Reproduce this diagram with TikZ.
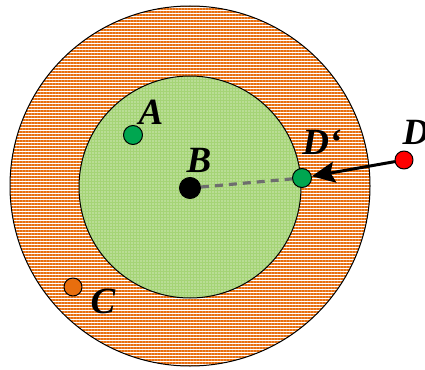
\documentclass[tikz,border=0pt]{standalone}
\usepackage{fontspec}
\setmainfont{Liberation Serif}
\usetikzlibrary{positioning, calc, patterns.meta, arrows.meta}

\definecolor{ringorange}{RGB}{232,110,14}
\definecolor{discgreen}{RGB}{165,212,118}
\definecolor{dotgreen}{RGB}{0,166,80}
\definecolor{dashgray}{RGB}{110,110,110}

\tikzset{
  pt/.style={circle, draw=black, line width=1pt, inner sep=0pt, minimum size=#1},
  pt/.default=19pt,
  lbl/.style={font=\fontsize{37}{40}\selectfont\bfseries\itshape}
}

\begin{document}
\begin{tikzpicture}[x=1pt,y=-1pt, line cap=round, line join=round]

\useasboundingbox (0,0) rectangle (425,369);

% outer ring
\fill[white] (190,186) circle (180);
\fill[pattern={Lines[angle=0,distance=3pt,line width=2.2pt]}, pattern color=ringorange] (190,186) circle (180);
\draw[line width=1pt] (190,186) circle (180);

% inner disc
\fill[discgreen] (190,187) circle (111);
\fill[pattern={Dots[distance=3pt,radius=0.6pt]}, pattern color=white] (190,187) circle (111);
\draw[line width=1pt] (190,187) circle (111);

\node[pt, fill=dotgreen] (a) at (133,135) {};
\node[pt=21pt, fill=black] (b) at (190,188) {};
\node[pt=18pt, fill=ringorange] (c) at (73,287) {};
\node[pt, fill=dotgreen] (dp) at (302,178) {};
\node[pt=18pt, fill=red] (d) at (404,160) {};

\draw[dashgray, line width=3.2pt, dash pattern=on 8pt off 6pt, line cap=butt] (b) -- (dp);
\draw[line width=3pt, -{Stealth[length=23pt,width=21pt,inset=4pt]}] (d) -- (dp);

\node[lbl] at (151,112) {A};
\node[lbl] at (199,160) {B};
\node[lbl] at (103,301) {C};
\node[lbl] at (322,142) {D‘};
\node[lbl] at (416,132) {D};

\end{tikzpicture}
\end{document}
